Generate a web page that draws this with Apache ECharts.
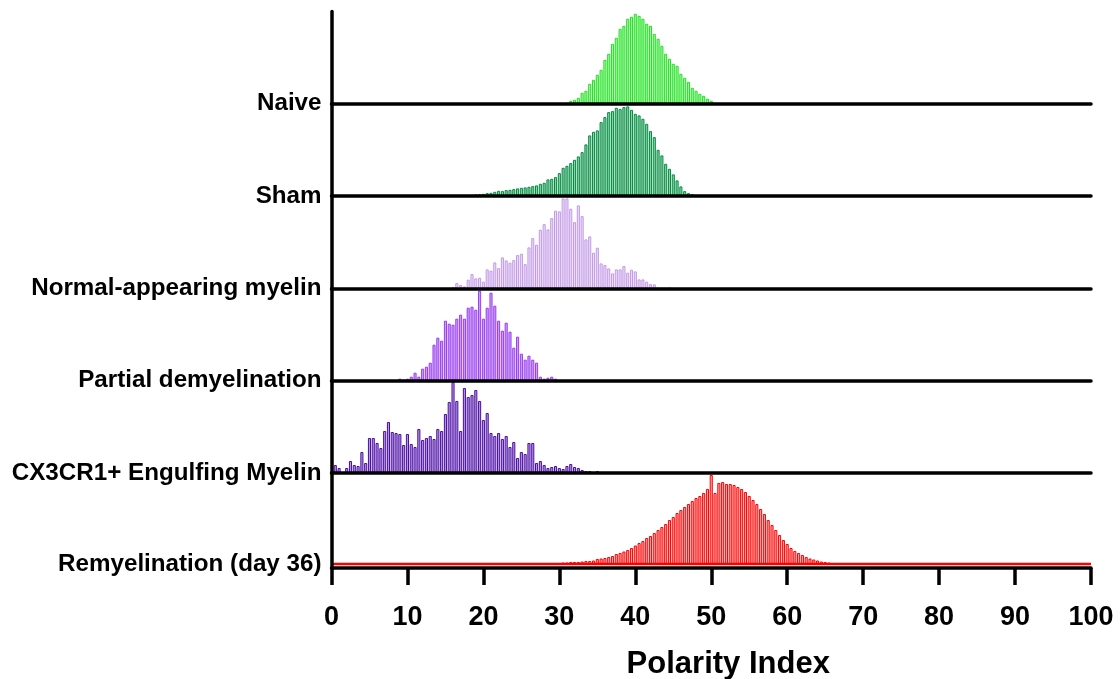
<!DOCTYPE html>
<html><head><meta charset="utf-8">
<script src="https://cdn.jsdelivr.net/npm/echarts@6/dist/echarts.min.js"></script>
<style>html,body{margin:0;padding:0;background:#fff}#c{width:1120px;height:679px}</style>
</head><body><div id="c"></div>
<script>
// ---- data (relative frequency per 0.5-wide Polarity Index bin) ----
const groups = ['Naive', 'Sham', 'Normal-appearing myelin', 'Partial demyelination', 'CX3CR1+ Engulfing Myelin', 'Remyelination (day 36)'];
const binWidth = 0.5;

const naiveStart = 31;
const naiveCounts = [1,3,4,6,11,13,20,24,29,34,44,50,60,66,75,78,85,87,90,88,85,80,78,70,65,58,50,45,40,38,30,26,22,16,13,10,8,5,3,1];

const shamStart = 18.5;
const shamCounts = [1.3,1.7,2,2.3,3,3.3,4.3,5.3,5,6,6.3,7,7.7,8.3,8.7,9.3,10,10.7,12.3,13.3,16.7,17.3,19,23,28.3,30.3,33,36.3,39.7,44,51.7,60.7,64.3,65.7,74,79,84,85,88.3,87,89,89.7,86.3,82.3,80.7,77.3,72.3,65,59,46.3,40.7,32.3,27.3,21.7,15.7,9.7,5,3,2];

const namStart = 16;
const namCounts = [1.3,5.3,3.3,2,8.7,14.3,10,10.7,6.7,19,17.7,26,20.3,31,28,25.7,28.3,33.3,34.7,24.3,41,50.3,43.7,58.7,64.3,59,70.3,77.7,77,90,90,79.7,66.3,83,72.3,49,52,35.7,40.7,25,23.3,20,15,19,19,22.3,15.7,18.7,17,9,9,6.7,4.3,4,1,0.3,0,0.7];

const partialStart = 9;
const partialCounts = [2,1,2,4,8,4,12,14,18,36,43,40,60,57,56,62,66,62,73,74,71,90,62,73,88,75,60,50,58,49,33,44,27,21,25,21,18,4,2,3,4,2];

const cx3Start = 0.5;
const cx3Counts = [8,5,1,5,12,8,7,21,10,35,35,30,25,42,51,41,40,39,28,39,29,26,44,33,35,37,34,44,42,59,71,91,72,42,85,
  76,78,83,72,53,60,40,37,40,34,37,26,31,15,21,19,30,30,10,12,8,5,6,7,5,4,7,9,6,5,3,2,2,1,2];

const remyStart = 28.5;
const remyCounts = [0.5,1,1,1,1.5,1.5,2,2,2,2.5,3,3,3.5,5,5.5,6,7,8,10,11,12.5,14,16,18.5,21,23,26,28,31,34,37,40,44,47,51,54,57,60,63,66,68,71,75,89,71,81,82,80,80,79,77,75,72,68,64,60,55,50,44,39,34,29,24,20,16,13,11,9,7,5.5,4.5,3.5,2.5,2,1.5,1,1];

const xMin = 0, xMax = 100, xInterval = 10;
const xTitle = 'Polarity Index';

// ---- styling ----
const starts = [naiveStart, shamStart, namStart, partialStart, cx3Start, remyStart];
const counts = [naiveCounts, shamCounts, namCounts, partialCounts, cx3Counts, remyCounts];
const borderColors = ['#1fe21f', '#008c40', '#c29ae6', '#9a3cf0', '#4d0ca6', '#ff0000'];
const fillColors = ['#a6f3a6', '#8ed0aa', '#ebdcf7', '#caa2f6', '#b09ada', '#ffa6a6'];
const FONT = '"Liberation Sans", Arial, Helvetica, sans-serif';

const left = 331.5, plotW = 759.5, top0 = 11.5, rowH = 92.3;
const grids = [], xAxes = [], yAxes = [], series = [];
for (let i = 0; i < 6; i++) {
  const last = i === 5;
  grids.push({ left: left, width: plotW, top: top0 + rowH * i, height: last ? (568 - (top0 + rowH * 5)) : rowH,
    containLabel: false, outerBoundsMode: 'none' });
  xAxes.push({
    gridIndex: i, type: 'value', min: xMin, max: xMax, interval: xInterval, z: 5,
    axisLine: { show: true, onZero: false, lineStyle: { color: '#000', width: 3.5 } },
    axisTick: { show: last, inside: false, length: 17, lineStyle: { color: '#000', width: 3.5 } },
    axisLabel: { show: last, margin: 36, color: '#000', fontSize: 27, fontWeight: 'bold', fontFamily: FONT },
    splitLine: { show: false },
    name: last ? xTitle : '', nameLocation: 'middle', nameGap: 81,
    nameTextStyle: { color: '#000', fontSize: 31, fontWeight: 'bold', fontFamily: FONT, padding: [0, 0, 0, 34] }
  });
  const name = groups[i];
  yAxes.push({
    gridIndex: i, type: 'value', min: last ? -4 : 0, max: last ? 91 : rowH, z: 5,
    axisLine: { show: true, onZero: false, lineStyle: { color: '#000', width: 3.5 } },
    axisTick: { show: false },
    splitLine: { show: false },
    axisLabel: { show: true, customValues: [0], margin: 10, color: '#000', fontSize: 24.2, fontWeight: 'bold', fontFamily: FONT,
      formatter: (v) => (Math.abs(v) < 1e-9 ? name : '') }
  });
  const s = {
    type: 'bar', xAxisIndex: i, yAxisIndex: i, name: name,
    barWidth: 3.1,
    itemStyle: { color: fillColors[i], borderColor: borderColors[i], borderWidth: 1 },
    data: counts[i].map((c, k) => [starts[i] + k * binWidth, c]),
    animation: false, silent: true
  };
  if (last) {
    s.markLine = {
      silent: true, symbol: 'none', label: { show: false },
      lineStyle: { color: '#ff0000', width: 2.4, type: 'solid' },
      data: [[{ coord: [xMin, 0] }, { coord: [xMax, 0] }]]
    };
  }
  series.push(s);
}

const chart = echarts.init(document.getElementById('c'), null, { renderer: 'canvas' });
chart.setOption({
  backgroundColor: '#ffffff',
  animation: false,
  textStyle: { fontFamily: FONT },
  grid: grids, xAxis: xAxes, yAxis: yAxes, series: series
});
</script>
</body></html>
